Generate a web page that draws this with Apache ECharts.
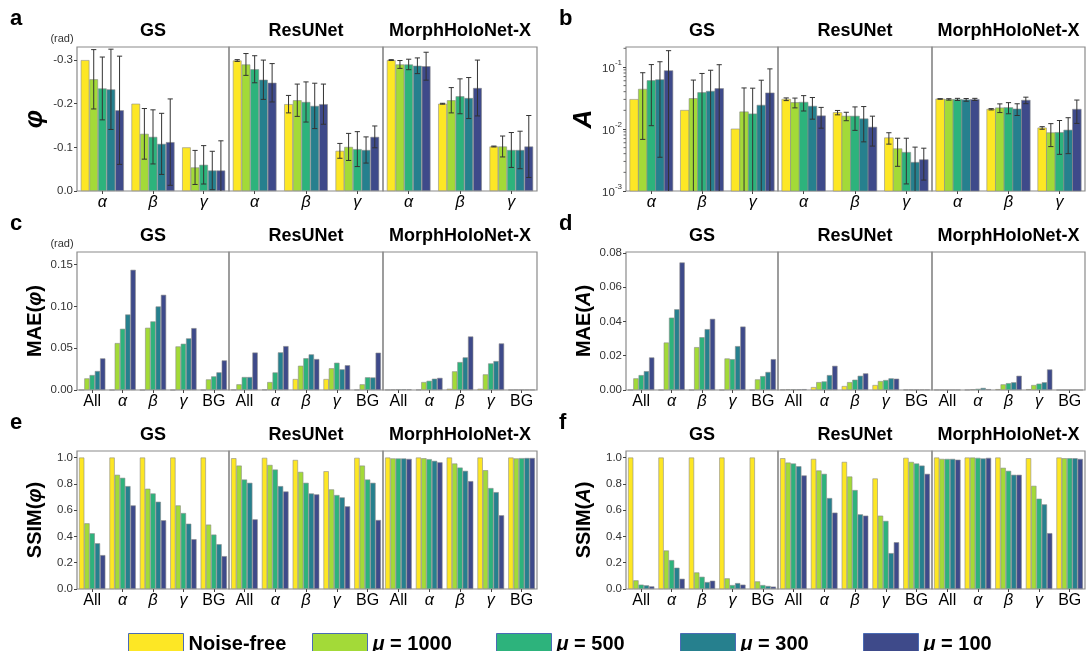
<!DOCTYPE html>
<html><head><meta charset="utf-8">
<script src="https://cdn.jsdelivr.net/npm/echarts@6/dist/echarts.min.js"></script>
<style>html,body{margin:0;padding:0;background:#fff}#c{width:1086px;height:651px}</style>
</head><body><div id="c"></div><script>
const methods = ['GS', 'ResUNet', 'MorphHoloNet-X'];
const seriesNames = ['Noise-free', 'μ = 1000', 'μ = 500', 'μ = 300', 'μ = 100'];
const colors = ['#FDE725', '#A3DA38', '#2DB37C', '#26808E', '#3E4A8A'];
const cats3 = ['α', 'β', 'γ'];
const cats5 = ['All', 'α', 'β', 'γ', 'BG'];
const phiTicks = [0, -0.1, -0.2, -0.3];
const ampTicks = [0.001, 0.01, 0.1];
const ampMinorTicks = [0.002,0.003,0.004,0.005,0.006,0.007,0.008,0.009,0.02,0.03,0.04,0.05,0.06,0.07,0.08,0.09,0.2];
const maePhiTicks = [0, 0.05, 0.10, 0.15];
const maeAmpTicks = [0, 0.02, 0.04, 0.06, 0.08];
const ssimTicks = [0, 0.2, 0.4, 0.6, 0.8, 1.0];

// rows = categories, columns = series (Noise-free, μ=1000, 500, 300, 100)
const phiMeanGS = [[-0.300,-0.256,-0.235,-0.233,-0.185],[-0.200,-0.131,-0.124,-0.108,-0.112],[-0.100,-0.054,-0.060,-0.047,-0.047]];
const phiSdGS = [[0,0.068,0.072,0.092,0.124],[0,0.058,0.062,0.070,0.099],[0,0.039,0.044,0.044,0.068]];
const phiMeanRes = [[-0.299,-0.290,-0.279,-0.255,-0.248],[-0.199,-0.208,-0.204,-0.195,-0.199],[-0.092,-0.101,-0.096,-0.094,-0.124]];
const phiSdRes = [[0.002,0.025,0.031,0.045,0.044],[0.020,0.037,0.046,0.052,0.046],[0.017,0.031,0.040,0.030,0.025]];
const phiMeanMHN = [[-0.300,-0.290,-0.290,-0.287,-0.286],[-0.200,-0.208,-0.217,-0.213,-0.236],[-0.102,-0.102,-0.094,-0.094,-0.102]];
const phiSdMHN = [[0.001,0.009,0.012,0.018,0.032],[0.001,0.029,0.040,0.047,0.064],[0.001,0.024,0.040,0.043,0.071]];

const ampMeanGS = [[0.030,0.0438,0.0603,0.0625,0.0873],[0.020,0.031,0.0386,0.0406,0.0448],[0.010,0.0189,0.0175,0.0242,0.0382]];
const ampSdGS = [[0,0.037,0.049,0.059,0.096],[0,0.0305,0.040,0.048,0.064],[0,0.027,0.028,0.037,0.055]];
const ampMeanRes = [[0.0302,0.0267,0.027,0.0233,0.0163],[0.0184,0.0161,0.0161,0.0146,0.0107],[0.0072,0.0048,0.0042,0.0029,0.0032]];
const ampSdRes = [[0.0015,0.0048,0.0075,0.0089,0.006],[0.0015,0.0025,0.0066,0.0084,0.0054],[0.0015,0.0023,0.0029,0.0022,0.0017]];
const ampMeanMHN = [[0.0305,0.0300,0.0300,0.0295,0.0300],[0.0208,0.0219,0.0221,0.0210,0.0291],[0.0104,0.0087,0.0088,0.0096,0.0208]];
const ampSdMHN = [[0.0003,0.0008,0.0012,0.0015,0.0012],[0.0005,0.0035,0.0045,0.0045,0.0035],[0.0005,0.0035,0.0049,0.0056,0.0085]];

const maePhiGS = [[0,0.0139,0.0179,0.0227,0.0378],[0,0.0561,0.0732,0.0903,0.1437],[0,0.0744,0.082,0.0999,0.1138],[0,0.0521,0.0553,0.0617,0.074],[0,0.0127,0.0163,0.0211,0.0354]];
const maePhiRes = [[0.0003,0.0068,0.0155,0.0155,0.0448],[0.0005,0.0095,0.021,0.045,0.0525],[0.0131,0.029,0.038,0.0426,0.037],[0.0131,0.026,0.0326,0.0247,0.0296],[0.0002,0.0068,0.0152,0.015,0.0446]];
const maePhiMHN = [[0.0002,0.0005,0.0008,0.0008,0.0008],[0.0003,0.0095,0.011,0.0135,0.0145],[0.0015,0.0223,0.0334,0.039,0.064],[0.0015,0.0187,0.0318,0.0346,0.0557],[0.0002,0.0003,0.0003,0.0003,0.0003]];

const maeAmpGS = [[0,0.0068,0.0087,0.011,0.019],[0,0.0277,0.0422,0.0471,0.0744],[0,0.025,0.0308,0.0355,0.0415],[0,0.0184,0.018,0.0256,0.037],[0,0.0062,0.0081,0.0105,0.018]];
const maeAmpRes = [[0.0002,0.0004,0.0004,0.0004,0.0005],[0.0017,0.0046,0.005,0.0087,0.0141],[0.0023,0.0046,0.006,0.0083,0.0097],[0.0029,0.0052,0.0058,0.0068,0.0066],[0.0002,0.0002,0.0002,0.0002,0.0002]];
const maeAmpMHN = [[0.0001,0.0001,0.0001,0.0001,0.0001],[0.0001,0.0004,0.0007,0.0012,0.0005],[0.0005,0.0033,0.004,0.0045,0.0083],[0.0005,0.0029,0.0037,0.0045,0.012],[0,0,0,0,0]];

const ssimPhiGS = [[1.0,0.50,0.424,0.348,0.258],[1.0,0.869,0.846,0.783,0.636],[1.0,0.763,0.727,0.664,0.523],[1.0,0.636,0.578,0.497,0.379],[1.0,0.49,0.414,0.341,0.25]];
const ssimPhiRes = [[0.995,0.939,0.833,0.808,0.53],[0.998,0.944,0.909,0.783,0.742],[0.982,0.891,0.808,0.727,0.72],[0.896,0.758,0.715,0.697,0.629],[0.998,0.939,0.833,0.808,0.525]];
const ssimPhiMHN = [[1.0,0.994,0.993,0.993,0.99],[1.0,0.995,0.988,0.975,0.964],[1.0,0.955,0.924,0.899,0.821],[1.0,0.904,0.768,0.737,0.561],[1.0,0.994,0.996,0.997,0.997]];

const ssimAmpGS = [[1.0,0.066,0.033,0.028,0.02],[1.0,0.293,0.22,0.162,0.078],[1.0,0.126,0.093,0.053,0.063],[1.0,0.081,0.03,0.045,0.033],[1.0,0.058,0.03,0.023,0.018]];
const ssimAmpRes = [[0.995,0.962,0.955,0.934,0.864],[0.99,0.902,0.876,0.692,0.581],[0.967,0.856,0.753,0.568,0.558],[0.841,0.558,0.518,0.273,0.356],[0.998,0.967,0.955,0.939,0.876]];
const ssimAmpMHN = [[1.0,0.99,0.99,0.99,0.984],[1.0,1.0,0.998,0.993,0.998],[1.0,0.922,0.899,0.869,0.869],[0.995,0.785,0.687,0.644,0.425],[1.0,0.995,0.995,0.995,0.99]];

const FONT = "'Liberation Sans', Arial, Helvetica, sans-serif";
const subW = [152, 154, 154];
const panels = [
  {letter:'a', left:77, top:47, h:144, cats:cats3, vals:[phiMeanGS,phiMeanRes,phiMeanMHN], sds:[phiSdGS,phiSdRes,phiSdMHN],
   y:{type:'value', inverse:true, min:-0.33, max:0, ticks:phiTicks, fmt:v=>(Math.round(v*10)/10).toFixed(1)},
   yName:'{i|φ}', rad:true},
  {letter:'b', left:626, top:47, h:144, cats:cats3, vals:[ampMeanGS,ampMeanRes,ampMeanMHN], sds:[ampSdGS,ampSdRes,ampSdMHN], log:true,
   y:{type:'log', min:0.001, max:0.21, ticks:ampTicks, fmt:v=>'{b|10}{s|' + Math.round(Math.log10(v)) + '}'},
   yName:'{i|A}'},
  {letter:'c', left:77, top:252, h:138, cats:cats5, vals:[maePhiGS,maePhiRes,maePhiMHN],
   y:{type:'value', min:0, max:0.165, ticks:maePhiTicks, fmt:v=>v.toFixed(2)}, yName:'{b|MAE(}{i|φ}{b|)}', rad:true},
  {letter:'d', left:626, top:252, h:138, cats:cats5, vals:[maeAmpGS,maeAmpRes,maeAmpMHN],
   y:{type:'value', min:0, max:0.0805, ticks:maeAmpTicks, fmt:v=>v.toFixed(2)}, yName:'{b|MAE(}{i|A}{b|)}'},
  {letter:'e', left:77, top:451, h:138, cats:cats5, vals:[ssimPhiGS,ssimPhiRes,ssimPhiMHN],
   y:{type:'value', min:0, max:1.05, ticks:ssimTicks, fmt:v=>v.toFixed(1)}, yName:'{b|SSIM(}{i|φ}{b|)}'},
  {letter:'f', left:626, top:451, h:138, cats:cats5, vals:[ssimAmpGS,ssimAmpRes,ssimAmpMHN],
   y:{type:'value', min:0, max:1.05, ticks:ssimTicks, fmt:v=>v.toFixed(1)}, yName:'{b|SSIM(}{i|A}{b|)}'}
];

const grid = [], xAxis = [], yAxis = [], series = [], graphic = [];
const nameRich = {
  b: {fontFamily: FONT, fontWeight: 'bold', fontSize: 20, fill: '#000'},
  i: {fontFamily: FONT, fontWeight: 'bold', fontStyle: 'italic', fontSize: 20, fill: '#000'}
};

panels.forEach(p => {
  const gap = p.cats.length === 3 ? 0.15 : 0.135;
  let x0 = p.left;
  graphic.push({type:'text', x: p.left - 67, y: p.top - 17,
    style:{text:p.letter, font:'bold 22px ' + FONT, fill:'#000', textAlign:'left', textVerticalAlign:'bottom'}});
  if (p.rad) graphic.push({type:'text', x: p.left - 15, y: p.top - 8,
    style:{text:'(rad)', font:'11px ' + FONT, fill:'#333', textAlign:'center', textVerticalAlign:'middle'}});
  const isSingle = p.letter === 'a' || p.letter === 'b';
  graphic.push({type:'text', x: p.left - 42, y: p.top + p.h / 2, rotation: Math.PI / 2,
    style:{text: p.yName, rich: isSingle ? {i:{fontFamily:FONT, fontWeight:'bold', fontStyle:'italic', fontSize:26, fill:'#000'}} : nameRich,
      textAlign:'center', textVerticalAlign:'middle'}});
  for (let m = 0; m < 3; m++) {
    const gi = grid.length;
    const w = (p.letter === 'b' || p.letter === 'd' || p.letter === 'f') && m === 2 ? 153 : subW[m];
    grid.push({left: x0, top: p.top, width: w, height: p.h, show: true, borderColor: '#8a8a8a', borderWidth: 1.2,
      containLabel: false, backgroundColor: 'transparent'});
    graphic.push({type:'text', x: x0 + w / 2, y: p.top - 16,
      style:{text: methods[m], font:'bold 18px ' + FONT, fill:'#000', textAlign:'center', textVerticalAlign:'middle'}});
    x0 += w;
    xAxis.push({type:'category', gridIndex: gi, data: p.cats,
      axisLine:{show:false},
      axisTick:{show:true, alignWithLabel:true, length:3, lineStyle:{color:'#444'}},
      axisLabel:{margin:4, interval:0, hideOverlap:false, color:'#000', fontSize:16, fontFamily:FONT,
        formatter: v => (v === 'All' || v === 'BG') ? v : '{g|' + v + '}',
        rich:{g:{fontStyle:'italic', fontSize:16, fontFamily:FONT, color:'#000'}}}});
    const ya = {type: p.y.type, gridIndex: gi, min: p.y.min, max: p.y.max, inverse: !!p.y.inverse,
      splitLine:{show:false}, axisLine:{show:false}, show: m === 0,
      axisTick:{show:true, length:3, lineStyle:{color:'#444'}, customValues: p.y.ticks},
      axisLabel:{margin:4, color:'#333', fontSize:11.5, fontFamily:FONT, formatter: p.y.fmt, customValues: p.y.ticks,
        showMinLabel:true, showMaxLabel:true,
        rich:{b:{fontSize:11.5, color:'#333', fontFamily:FONT, lineHeight:16, verticalAlign:'bottom'},
              s:{fontSize:8, color:'#333', fontFamily:FONT, lineHeight:16, verticalAlign:'top'}}},
      minorTick:{show:false}};
    if (p.y.type === 'log') ya.logBase = 10;
    yAxis.push(ya);
    const vals = p.vals[m];
    for (let s = 0; s < 5; s++) {
      if (!p.log) {
        series.push({type:'bar', name: seriesNames[s], xAxisIndex: gi, yAxisIndex: gi,
          data: vals.map(r => r[s]), barGap:'0%', barCategoryGap: (gap * 100) + '%',
          itemStyle:{color: colors[s], borderColor:'#8c8c8c', borderWidth:0.6}, silent:true, animation:false});
      } else {
        series.push({type:'custom', name: seriesNames[s], xAxisIndex: gi, yAxisIndex: gi,
          itemStyle:{color: colors[s]}, silent:true, animation:false, clip:false,
          encode:{x:0, y:1},
          data: vals.map((r, ci) => [ci, r[s]]),
          renderItem: (params, api) => {
            const band = api.size([1, 1], [0, 0.01])[0];
            const grp = band * (1 - gap), bw = grp / 5;
            const c = api.coord([api.value(0), api.value(1)]);
            const cs = params.coordSys;
            const yb = cs.y + cs.height;
            return {type:'rect', shape:{x: c[0] - grp / 2 + bw * s, y: c[1], width: bw, height: yb - c[1]},
              style:{fill: colors[s], stroke:'#8c8c8c', lineWidth:0.6}};
          }});
      }
    }
    if (p.sds) {
      const sds = p.sds[m];
      const errData = [];
      vals.forEach((r, ci) => r.forEach((v, s) => errData.push([ci, v, s, sds[ci][s]])));
      const lo = Math.min(p.y.min, p.y.max), hi = Math.max(p.y.min, p.y.max);
      series.push({type:'custom', name:'err', xAxisIndex: gi, yAxisIndex: gi, silent:true, animation:false, clip:false,
        encode:{x:0, y:1}, data: errData, z: 5,
        renderItem: (params, api) => {
          const ci = api.value(0), v = api.value(1), s = api.value(2), sd = api.value(3);
          if (!(sd > 0)) return;
          const band = api.size([1, 1], [0, 0.01])[0];
          const grp = band * (1 - gap), bw = grp / 5;
          const cx = api.coord([ci, v])[0] - grp / 2 + bw * (s + 0.5);
          let a = v - sd, b = v + sd;
          const aClip = a <= lo, bClip = b >= hi;
          if (aClip) a = lo;
          if (bClip) b = hi;
          const ya = api.coord([ci, a])[1], yb = api.coord([ci, b])[1];
          const cap = 2.6;
          const st = {stroke:'#333', lineWidth:1};
          const ch = [{type:'line', shape:{x1:cx, y1:ya, x2:cx, y2:yb}, style:st}];
          if (!aClip) ch.push({type:'line', shape:{x1:cx - cap, y1:ya, x2:cx + cap, y2:ya}, style:st});
          if (!bClip) ch.push({type:'line', shape:{x1:cx - cap, y1:yb, x2:cx + cap, y2:yb}, style:st});
          return {type:'group', children: ch};
        }});
    }
    if (p.log && m === 0) {
      series.push({type:'custom', name:'minor', xAxisIndex: gi, yAxisIndex: gi, silent:true, animation:false, clip:false,
        encode:{x:0, y:1}, data: ampMinorTicks.map(t => [0, t]),
        renderItem: (params, api) => {
          const y = api.coord([0, api.value(1)])[1];
          const cs = params.coordSys;
          return {type:'line', shape:{x1: cs.x - 2.5, y1: y, x2: cs.x, y2: y}, style:{stroke:'#666', lineWidth:1}};
        }});
    }
  }
});

const legendX = [123, 307, 491, 675, 858];
const legend = seriesNames.map((n, i) => ({
  data: [n], left: legendX[i], top: 628, itemWidth: 55, itemHeight: 22, icon: 'rect', selectedMode: false,
  itemStyle: {borderColor: '#4a6bb5', borderWidth: 1},
  textStyle: {fontSize: 20, fontWeight: 'bold', color: '#000', fontFamily: FONT,
    rich: {i: {fontSize: 20, fontWeight: 'bold', fontStyle: 'italic', color: '#000', fontFamily: FONT},
           t: {fontSize: 20, fontWeight: 'bold', color: '#000', fontFamily: FONT}}},
  formatter: name => name.startsWith('μ') ? '{i|μ}{t|' + name.slice(1) + '}' : name
}));

const chart = echarts.init(document.getElementById('c'), null, {renderer: 'canvas'});
chart.setOption({animation: false, backgroundColor: '#fff', grid, xAxis, yAxis, series, legend, graphic});
</script></body></html>
